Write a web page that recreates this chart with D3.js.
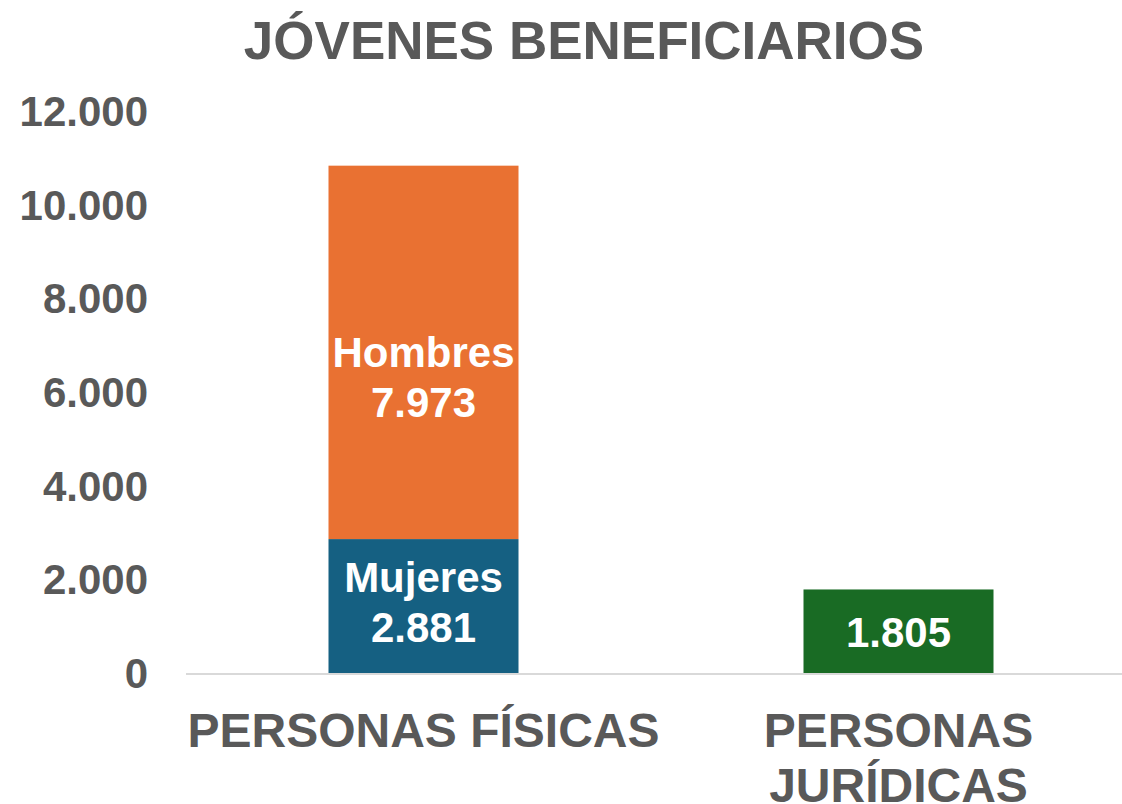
<!DOCTYPE html>
<html lang="es">
<head>
<meta charset="utf-8">
<title>Jóvenes beneficiarios</title>
<script src="https://cdn.jsdelivr.net/npm/d3@7"></script>
<style>
  body { margin: 0; background: #fff; font-family: "Liberation Sans", Arial, sans-serif; }
  #chart { width: 1122px; height: 804px; }
</style>
</head>
<body>
<div id="chart"></div>
<script>
// data
var categories = ["PERSONAS FÍSICAS", "PERSONAS JURÍDICAS"];
var seriesNames = ["Mujeres", "Hombres", "Jurídicas"];
var mujeres = [2881, 0];
var hombres = [7973, 0];
var juridicas = [0, 1805];
var yTicks = [0, 2000, 4000, 6000, 8000, 10000, 12000];

var W = 1122, H = 804;
var grey = "#595959";
var color = d3.scaleOrdinal()
              .domain(seriesNames)
              .range(["#156082", "#E97132", "#196B24"]);

var locale = d3.formatLocale({decimal: ",", thousands: ".", grouping: [3], currency: ["", ""]});
var fmt = locale.format(",d");

var svg = d3.select("#chart").append("svg")
            .attr("width", W)
            .attr("height", H);

var x = d3.scaleBand()
          .domain(categories)
          .range([186, 1136])
          .paddingInner(0.6)
          .paddingOuter(0.3);

var y = d3.scaleLinear()
          .domain([0, 12000])
          .range([674, 112]);

// title
svg.append("text")
   .attr("x", 584)
   .attr("y", 59)
   .attr("text-anchor", "middle")
   .attr("font-size", "53px")
   .attr("font-weight", "bold")
   .attr("fill", grey)
   .text("JÓVENES BENEFICIARIOS");

// y axis (labels only)
var yAxis = svg.append("g")
   .attr("transform", "translate(186,0)")
   .call(d3.axisLeft(y).tickValues(yTicks).tickFormat(fmt).tickSize(0).tickPadding(38));
yAxis.select(".domain").remove();
yAxis.selectAll("text")
     .attr("font-family", "'Liberation Sans', Arial, sans-serif")
     .attr("font-size", "42px")
     .attr("font-weight", "bold")
     .attr("fill", grey);

// stacked bars
var rows = categories.map(function(c, i) {
  return {cat: c, Mujeres: mujeres[i], Hombres: hombres[i], "Jurídicas": juridicas[i]};
});
var stacked = d3.stack().keys(seriesNames)(rows);

var groups = svg.append("g")
   .selectAll("g")
   .data(stacked)
   .enter()
   .append("g")
   .attr("fill", function(d) { return color(d.key); });

groups.selectAll("rect")
   .data(function(d) { return d.filter(function(p) { return p[1] > p[0]; }); })
   .enter()
   .append("rect")
   .attr("x", function(d) { return x(d.data.cat); })
   .attr("y", function(d) { return y(d[1]); })
   .attr("width", x.bandwidth())
   .attr("height", function(d) { return y(d[0]) - y(d[1]); });

// baseline
svg.append("line")
   .attr("x1", 186).attr("x2", W)
   .attr("y1", y(0)).attr("y2", y(0))
   .attr("stroke", "#d9d9d9")
   .attr("stroke-width", 2);

// data labels
var labelNudge = {Mujeres: -5, Hombres: 25, "Jurídicas": 0};
stacked.forEach(function(s) {
  s.forEach(function(p) {
    if (p[1] <= p[0]) return;
    var cx = x(p.data.cat) + x.bandwidth() / 2;
    var cy = (y(p[0]) + y(p[1])) / 2 + labelNudge[s.key];
    var t = svg.append("text")
       .attr("text-anchor", "middle")
       .attr("font-size", "42px")
       .attr("font-weight", "bold")
       .attr("fill", "#fff");
    var v = p.data[s.key];
    if (s.key === "Jurídicas") {
      t.attr("x", cx).attr("y", cy + 15).text(fmt(v));
    } else {
      t.append("tspan").attr("x", cx).attr("y", cy - 10).text(s.key);
      t.append("tspan").attr("x", cx).attr("y", cy + 40).text(fmt(v));
    }
  });
});

// category labels, wrapped to the band
var step = x.step();
categories.forEach(function(c) {
  var cx = x(c) + x.bandwidth() / 2;
  var t = svg.append("text")
     .attr("text-anchor", "middle")
     .attr("font-size", "48px")
     .attr("font-weight", "bold")
     .attr("fill", grey);
  var words = c.split(" ");
  var line = [];
  var lines = [];
  var probe = t.append("tspan");
  words.forEach(function(w) {
    line.push(w);
    probe.text(line.join(" "));
    if (probe.node().getComputedTextLength() > step && line.length > 1) {
      line.pop();
      lines.push(line.join(" "));
      line = [w];
    }
  });
  lines.push(line.join(" "));
  probe.remove();
  lines.forEach(function(l, i) {
    t.append("tspan").attr("x", cx).attr("y", 747 + i * 55).text(l);
  });
});
</script>
</body>
</html>
